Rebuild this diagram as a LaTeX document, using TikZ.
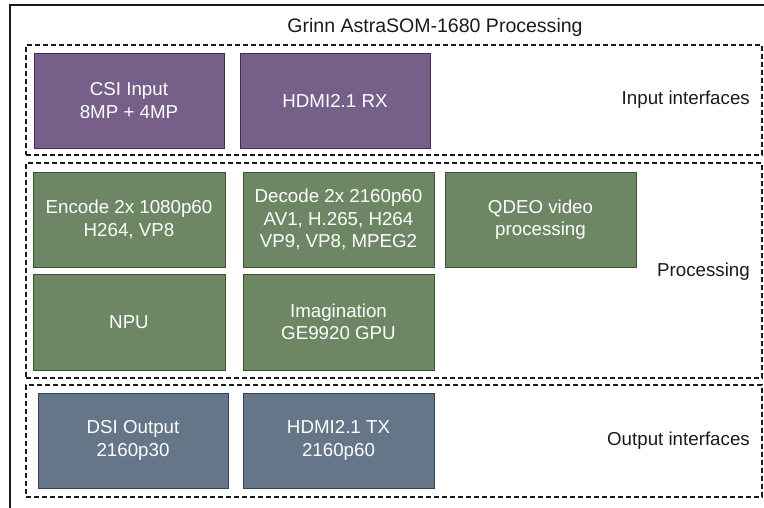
\documentclass[tikz,border=0pt]{standalone}
\usepackage{fontspec}
\setmainfont{Liberation Sans}
\definecolor{purpfill}{HTML}{76608A}
\definecolor{purpline}{HTML}{432D57}
\definecolor{grnfill}{HTML}{6D8764}
\definecolor{grnline}{HTML}{3A5431}
\definecolor{blufill}{HTML}{647687}
\definecolor{bluline}{HTML}{314354}
\definecolor{txtdark}{HTML}{1A1A1A}
\tikzset{
  blk/.style={draw, line width=0.9bp, text=white, align=center, inner sep=0pt,
    font=\fontsize{18.8}{22.5}\selectfont, minimum width=191bp, minimum height=95bp},
  purp/.style={blk, fill=purpfill, draw=purpline},
  grn/.style={blk, fill=grnfill, draw=grnline},
  blu/.style={blk, fill=blufill, draw=bluline},
  grp/.style={draw=txtdark, line width=1.2bp, dash pattern=on 5bp off 3bp, inner sep=0pt},
  lbl/.style={anchor=east, text=txtdark, inner sep=0pt, font=\fontsize{18.8}{22.5}\selectfont},
}
\begin{document}
\begin{tikzpicture}[x=1bp,y=-1bp]
\useasboundingbox (0,0) rectangle (764,508);
% outer frame (cropped on right and bottom)
\coordinate (fbl) at (10,510);
\coordinate (ftl) at (10,5);
\coordinate (ftr) at (766,5);
\draw[txtdark, line width=1.5bp] (fbl) -- (ftl) -- (ftr);
\node[text=txtdark, inner sep=0pt, font=\fontsize{19.6}{23}\selectfont] (title) at (435,27) {Grinn AstraSOM-1680 Processing};
% groups
\node[grp, minimum width=736bp, minimum height=110bp] (ginput) at (394,100) {};
\node[grp, minimum width=736bp, minimum height=215bp] (gproc) at (394,270.5) {};
\node[grp, minimum width=736bp, minimum height=112bp] (gout) at (394,441) {};
\node[lbl] (linput) at (750,100) {Input interfaces};
\node[lbl] (lproc) at (750,272) {Processing};
\node[lbl] (lout) at (750,441) {Output interfaces};
% input
\node[purp, minimum width=190bp] (csi) at (129,100.5) {CSI Input\\8MP + 4MP};
\node[purp, minimum width=190bp] (hdmirx) at (335,100.5) {HDMI2.1 RX};
% processing
\node[grn, minimum width=192bp] (enc) at (129,219.5) {Encode 2x 1080p60\\H264, VP8};
\node[grn] (dec) at (338.5,219.5) {Decode 2x 2160p60\\AV1, H.265, H264\\VP9, VP8, MPEG2};
\node[grn] (qdeo) at (540.5,219.5) {QDEO video\\processing};
\node[grn, minimum width=192bp, minimum height=96bp] (npu) at (129,322) {NPU};
\node[grn, minimum height=96bp] (gpu) at (338.5,322) {Imagination\\GE9920 GPU};
% output
\node[blu, minimum width=190bp] (dsi) at (133,440.5) {DSI Output\\2160p30};
\node[blu] (hdmitx) at (338.5,440.5) {HDMI2.1 TX\\2160p60};
\end{tikzpicture}
\end{document}
